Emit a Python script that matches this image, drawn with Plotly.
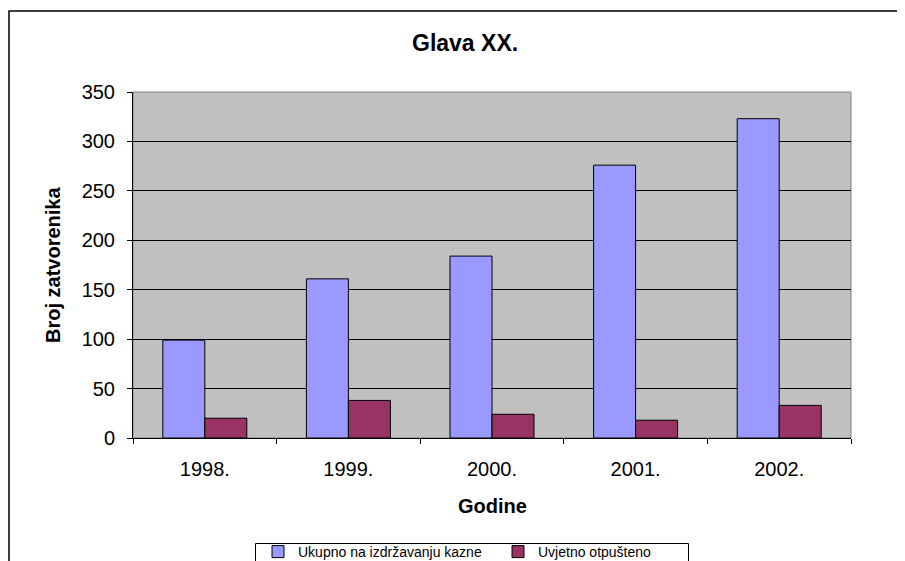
import plotly.graph_objects as go

years = ["1998.", "1999.", "2000.", "2001.", "2002."]
ukupno = [99, 161, 184, 276, 323]
uvjetno = [20, 38, 24, 18, 33]
y_ticks = [0, 50, 100, 150, 200, 250, 300, 350]

# page body has an 8px default margin; figure sized so it fills the window
OFF = 8
W, H = 905 - OFF, 561 - OFF
L, R, T, B = 133 - OFF, 54, 92 - OFF, 123
pw = W - L - R
ph = H - T - B


def px_x(x):
    """window pixel x -> paper coordinate"""
    return (x - OFF - L) / pw


def px_y(y):
    """window pixel y -> paper coordinate"""
    return 1 - (y - OFF - T) / ph


FONT = "Liberation Sans, Arial, sans-serif"

fig = go.Figure()
fig.add_trace(go.Bar(x=years, y=ukupno, name="Ukupno na izdržavanju kazne",
                     marker=dict(color="#9999FF", line=dict(color="#000000", width=1))))
fig.add_trace(go.Bar(x=years, y=uvjetno, name="Uvjetno otpušteno",
                     marker=dict(color="#993366", line=dict(color="#000000", width=1))))

fig.update_layout(
    width=W, height=H,
    margin=dict(l=L, r=R, t=T, b=B, autoexpand=False),
    paper_bgcolor="white",
    plot_bgcolor="#C0C0C0",
    barmode="group",
    bargap=0.415,
    bargroupgap=0,
    font=dict(family=FONT, color="black"),
    showlegend=True,
    legend=dict(
        orientation="h",
        x=px_x(258), xanchor="left",
        y=px_y(536), yanchor="top",
        borderwidth=0,
        bgcolor="rgba(0,0,0,0)",
        font=dict(family=FONT, size=14, color="black"),
        entrywidth=195, entrywidthmode="pixels",
        itemwidth=30,
        traceorder="normal",
    ),
    xaxis=dict(
        type="category",
        showline=True, linecolor="black", linewidth=1,
        ticks="outside", ticklen=5, tickcolor="black",
        tickson="boundaries",
        tickfont=dict(size=20, family=FONT),
        ticklabelstandoff=13,
        showgrid=False,
        zeroline=False,
    ),
    yaxis=dict(
        range=[0, 350],
        tickvals=y_ticks,
        showline=True, linecolor="black", linewidth=1,
        ticks="outside", ticklen=5, tickcolor="black",
        tickfont=dict(size=20, family=FONT),
        ticklabelstandoff=8,
        showgrid=True, gridcolor="black", gridwidth=1,
        zeroline=False,
    ),
)

# plot area border (grey)
fig.add_shape(type="rect", xref="paper", yref="paper", x0=0, x1=1, y0=0, y1=1,
              line=dict(color="#808080", width=1), layer="below")
# outer chart border
fig.add_shape(type="rect", xref="paper", yref="paper",
              x0=px_x(9), x1=px_x(940), y0=px_y(600), y1=px_y(11),
              line=dict(color="black", width=1.5), fillcolor="rgba(0,0,0,0)")
# legend frame
fig.add_shape(type="rect", xref="paper", yref="paper",
              x0=px_x(255.5), x1=px_x(688.5), y0=px_y(600), y1=px_y(543.5),
              line=dict(color="black", width=1), fillcolor="rgba(0,0,0,0)")

fig.add_annotation(text="<b>Glava XX.</b>", xref="paper", yref="paper",
                   x=px_x(465), y=px_y(43), xanchor="center", yanchor="middle",
                   showarrow=False, font=dict(size=23, family=FONT, color="black"))
fig.add_annotation(text="<b>Godine</b>", xref="paper", yref="paper",
                   x=0.5, y=px_y(506), xanchor="center", yanchor="middle",
                   showarrow=False, font=dict(size=20, family=FONT, color="black"))
fig.add_annotation(text="<b>Broj zatvorenika</b>", xref="paper", yref="paper",
                   x=px_x(53), y=0.5, xanchor="center", yanchor="middle",
                   textangle=-90,
                   showarrow=False, font=dict(size=20, family=FONT, color="black"))

fig.write_html("out.html")
